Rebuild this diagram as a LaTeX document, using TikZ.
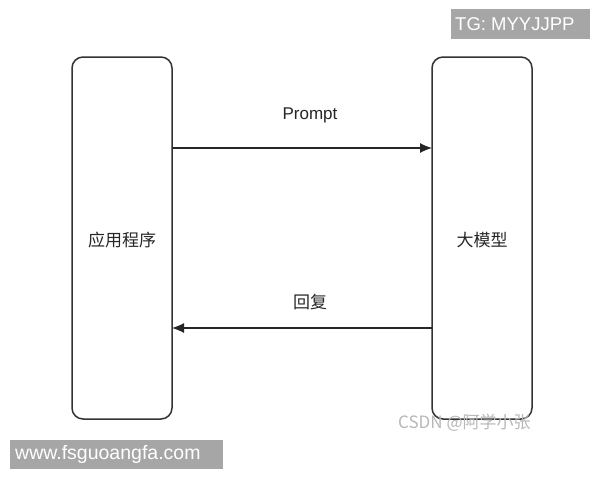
\documentclass[tikz,border=0pt]{standalone}
\usepackage{fontspec}
\setmainfont{Liberation Sans}
\newfontfamily\cjk{Noto Sans CJK SC}
\usetikzlibrary{arrows.meta}
\begin{document}
\begin{tikzpicture}[x=1pt,y=-1pt,
  blockbox/.style={draw=black!80,line width=1.5pt,rounded corners=11pt,minimum width=100pt,minimum height=362pt,inner sep=0pt},
  lbl/.style={font=\fontsize{17}{19}\selectfont\cjk,text=black!85,inner sep=0pt},
  conn/.style={draw=black!85,line width=1.1pt,-{Latex[length=12pt,width=10pt]}},
  tag/.style={fill=black!35,inner sep=0pt},
  tagtext/.style={text=white,inner sep=0pt,anchor=west,font=\fontsize{18.5}{20}\selectfont},
  wm/.style={text=black!28,inner sep=0pt,font=\fontsize{17}{19}\selectfont\cjk}]
\useasboundingbox (0,0) rectangle (600,480);
\fill[white] (0,0) rectangle (600,480);
\node[blockbox] (app) at (122,238) {};
\node[blockbox] (llm) at (482,238) {};
\node[lbl] (applbl) at (122,240) {应用程序};
\node[lbl] (llmlbl) at (482,240) {大模型};
\coordinate (a1) at (172,148);
\coordinate (b1) at (432,148);
\coordinate (a2) at (172,328);
\coordinate (b2) at (432,328);
\draw[conn] (a1) -- (b1);
\draw[conn] (b2) -- (a2);
\node[lbl,font=\fontsize{17}{19}\selectfont] (prompt) at (310,115) {Prompt};
\node[lbl] (reply) at (310,302) {回复};
\node[tag,minimum width=139pt,minimum height=30pt] (tg) at (520.5,24) {};
\node[tagtext] (tgt) at (455,24) {TG: MYYJJPP};
\node[tag,minimum width=213pt,minimum height=29pt] (www) at (116.5,454.5) {};
\node[tagtext,font=\fontsize{19.5}{21}\selectfont] (wwwt) at (15,454.5) {www.fsguoangfa.com};
\node[wm,anchor=west] (csdn) at (398,423) {CSDN @阿学小张};
\end{tikzpicture}
\end{document}
